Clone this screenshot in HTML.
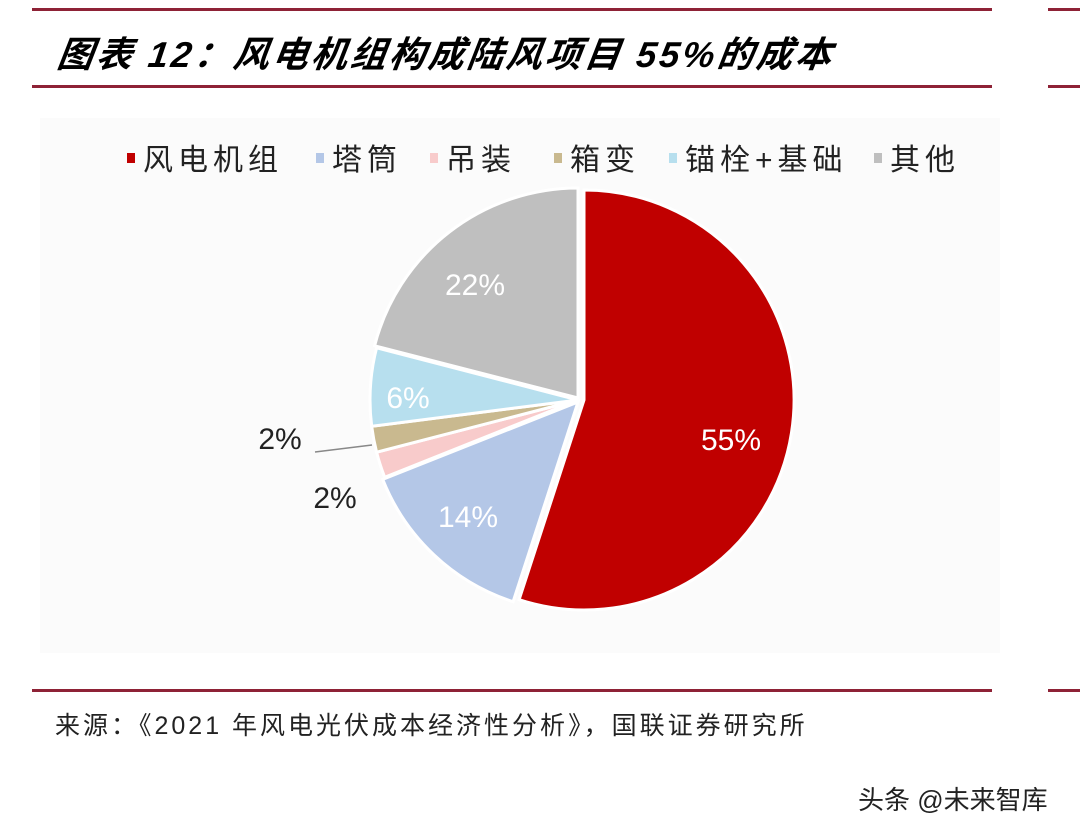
<!DOCTYPE html>
<html><head><meta charset="utf-8"><style>
body{margin:0;width:1080px;height:834px;background:#fff;overflow:hidden;position:relative;font-family:"Liberation Sans","Noto Sans CJK SC",sans-serif}
.l{position:absolute;height:3px;background:#8e2236}
.t{position:absolute;white-space:nowrap}
</style></head><body>
<div class="l" style="left:32px;top:8px;width:960px"></div>
<div class="l" style="left:32px;top:85px;width:960px"></div>
<div class="l" style="left:1048px;top:8px;width:40px"></div>
<div class="l" style="left:1048px;top:85px;width:40px"></div>
<div class="l" style="left:32px;top:689px;width:960px"></div>
<div class="l" style="left:1048px;top:689px;width:40px"></div>
<div class="t" style="left:58px;top:26px;font-size:36px;letter-spacing:3px;font-weight:bold;font-style:italic;transform:skewX(-8deg)">图表 12：风电机组构成陆风项目 55%的成本</div>
<div style="position:absolute;left:40px;top:118px;width:960px;height:535px;background:#fbfbfb"></div>
<svg style="position:absolute;left:0;top:0" width="1080" height="834">
<g font-size="30" fill="#222" letter-spacing="5">
<rect x="127" y="153" width="8" height="10" fill="#c00000"/><text x="143" y="170">风电机组</text>
<rect x="316" y="153" width="8" height="10" fill="#b4c7e7"/><text x="332" y="170">塔筒</text>
<rect x="430" y="153" width="8" height="10" fill="#f8cbcb"/><text x="446" y="170">吊装</text>
<rect x="554" y="153" width="8" height="10" fill="#c9b98f"/><text x="570" y="170">箱变</text>
<rect x="669" y="153" width="8" height="10" fill="#b7dfee"/><text x="685" y="170">锚栓+基础</text>
<rect x="874" y="153" width="8" height="10" fill="#bfbfbf"/><text x="890" y="170">其他</text>
</g>
<g stroke="#fff" stroke-width="3">
<path d="M584,400 L584,190 A210,210 0 1 1 519.1,599.7 Z" fill="#c00000"/>
<path d="M578,402 L513.1,601.7 A210,210 0 0 1 382.7,479.3 Z" fill="#b4c7e7"/>
<path d="M578,400 L384.7,477.3 A210,210 0 0 1 376.6,452.2 Z" fill="#f8cbcb"/>
<path d="M578,400 L376.6,452.2 A210,210 0 0 1 371.7,426.3 Z" fill="#c9b98f"/>
<path d="M578,400 L371.7,426.3 A210,210 0 0 1 376.6,347.8 Z" fill="#b7dfee"/>
<path d="M578,398 L374.6,345.8 A210,210 0 0 1 578,188 Z" fill="#bfbfbf"/>
</g>
<line x1="315" y1="452" x2="372" y2="445" stroke="#888" stroke-width="1.5"/>
<g font-size="30" fill="#fff" text-anchor="middle">
<text x="731" y="450">55%</text><text x="468" y="527">14%</text>
<text x="408" y="408">6%</text><text x="475" y="295">22%</text>
</g>
<g font-size="30" fill="#222" text-anchor="middle">
<text x="280" y="449">2%</text><text x="335" y="508">2%</text>
</g>
</svg>
<div class="t" style="left:55px;top:706px;font-size:25px;letter-spacing:3px;color:#222">来源：《2021 年风电光伏成本经济性分析》，国联证券研究所</div>
<div class="t" style="left:858px;top:780px;font-size:26px;color:#222">头条 @未来智库</div>
</body></html>
